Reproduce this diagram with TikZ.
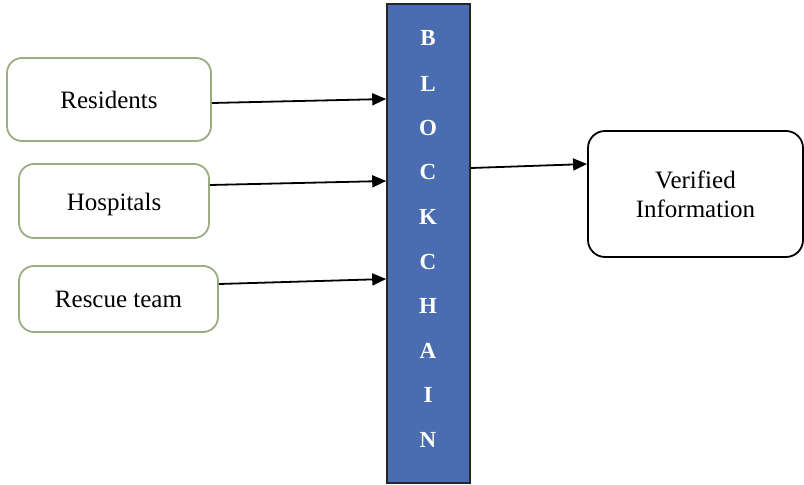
\documentclass[tikz,border=0pt]{standalone}
\usepackage{fontspec}
\setmainfont{Liberation Serif}
\usetikzlibrary{arrows.meta}
\definecolor{srcedge}{HTML}{9CAC82}
\definecolor{chainblue}{HTML}{4A6DB1}
\begin{document}
\begin{tikzpicture}[x=1pt,y=-1pt,
  source/.style={draw=srcedge,line width=1.8pt,rounded corners=15pt,fill=white,
    inner sep=0pt,font=\fontsize{25}{29}\selectfont},
  result/.style={draw=black,line width=1.8pt,rounded corners=17pt,fill=white,
    inner sep=0pt,align=center,font=\fontsize{25}{29}\selectfont},
  chain/.style={draw=black!85,line width=1.6pt,fill=chainblue,inner sep=0pt},
  letter/.style={text=white,font=\bfseries\fontsize{23}{27}\selectfont,inner sep=0pt},
  arr/.style={line width=1.8pt,-{Triangle[length=14pt,width=12pt]}}]
\useasboundingbox (0,0) rectangle (804,485);

% input parties
\node[source,minimum width=204pt,minimum height=83pt] (res) at (109,99.5) {Residents};
\node[source,minimum width=190pt,minimum height=74pt] (hos) at (114,201) {};
\node[font=\fontsize{25}{29}\selectfont,inner sep=0pt] (hostxt) at (114,204) {Hospitals};
\node[source,minimum width=199pt,minimum height=66pt] (resc) at (118.5,299) {Rescue team};

% the ledger column
\node[chain,minimum width=83pt,minimum height=479pt] (bc) at (428.5,243.5) {};
\foreach \ch/\yy [count=\i] in {B/38,L/84,O/128,C/172,K/217,C/262,H/306,A/351,I/395,N/440}
  \node[letter] (l\i) at (428,\yy) {\ch};

% output
\node[result,minimum width=215pt,minimum height=126pt] (ver) at (695.5,194) {Verified\\Information};

% connectors
\draw[arr] ([yshift=-3.5pt]res.east) -- (bc.west |- 0,99);
\draw[arr] ([yshift=16pt]hos.east) -- (bc.west |- 0,181);
\draw[arr] ([yshift=15pt]resc.east) -- (bc.west |- 0,279);
\draw[arr] (bc.east |- 0,168) -- (ver.west |- 0,164);
\end{tikzpicture}
\end{document}
